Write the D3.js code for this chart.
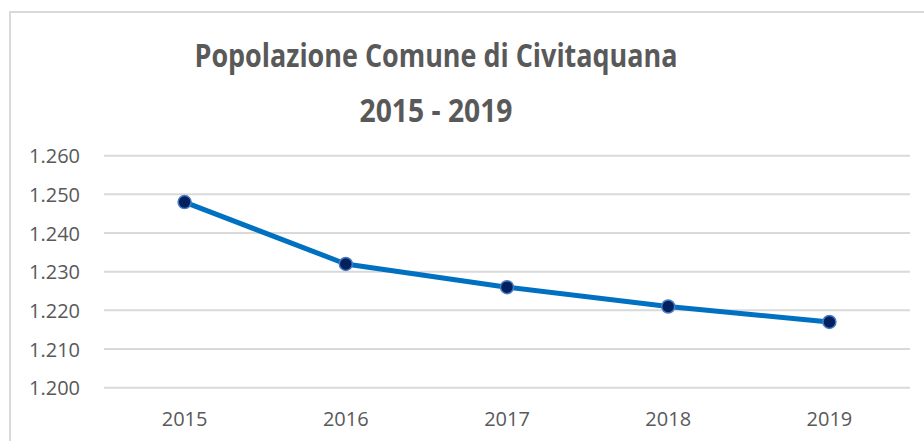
<!DOCTYPE html>
<html>
<head>
<meta charset="utf-8">
<script src="https://cdn.jsdelivr.net/npm/d3@7"></script>
<style>
  body { margin: 0; background: #fff; }
  text { font-family: "Open Sans", "Liberation Sans", sans-serif; }
</style>
</head>
<body>
<svg width="924" height="441"></svg>
<script>
// dati
var anni = ["2015", "2016", "2017", "2018", "2019"];
var popolazione = [1248, 1232, 1226, 1221, 1217];
var tickY = [1200, 1210, 1220, 1230, 1240, 1250, 1260];

var svg = d3.select("svg"),
    pLeft = 104, pRight = 910, pTop = 155.7, pBottom = 387.7;

// bordo del grafico
svg.append("rect")
    .attr("x", 10).attr("y", 12)
    .attr("width", 930).attr("height", 440)
    .attr("fill", "none")
    .attr("stroke", "#d9d9d9")
    .attr("stroke-width", 2);

var x = d3.scaleBand().domain(anni).range([pLeft, pRight]);
var y = d3.scaleLinear().domain([1200, 1260]).range([pBottom, pTop]);

var fmt = function(d) { return d3.format(",")(d).replace(",", "."); };

// griglia
svg.append("g")
  .selectAll("line")
  .data(tickY)
  .enter().append("line")
    .attr("x1", pLeft).attr("x2", pRight)
    .attr("y1", function(d) { return y(d); })
    .attr("y2", function(d) { return y(d); })
    .attr("stroke", "#d9d9d9")
    .attr("stroke-width", 2);

// asse y
var yAxis = svg.append("g")
    .attr("transform", "translate(" + (pLeft - 24) + ",0)")
    .call(d3.axisLeft(y).tickValues(tickY).tickFormat(fmt).tickSize(0));
yAxis.select(".domain").remove();
yAxis.selectAll("text")
    .attr("x", 0)
    .attr("fill", "#595959")
    .style("font-size", "20px")
    .attr("dy", "0.36em");

// asse x
var xAxis = svg.append("g")
    .attr("transform", "translate(0," + pBottom + ")")
    .call(d3.axisBottom(x).tickSize(0));
xAxis.select(".domain").remove();
xAxis.selectAll("text")
    .attr("fill", "#595959")
    .style("font-size", "20px")
    .attr("y", 38)
    .attr("dy", 0);

// linea
var line = d3.line()
    .x(function(d, i) { return x(anni[i]) + x.bandwidth() / 2; })
    .y(function(d) { return y(d); });

svg.append("path")
    .datum(popolazione)
    .attr("d", line)
    .attr("fill", "none")
    .attr("stroke", "#0070c0")
    .attr("stroke-width", 5)
    .attr("stroke-linejoin", "round");

svg.append("g")
  .selectAll("circle")
  .data(popolazione)
  .enter().append("circle")
    .attr("cx", function(d, i) { return x(anni[i]) + x.bandwidth() / 2; })
    .attr("cy", function(d) { return y(d); })
    .attr("r", 6.5)
    .attr("fill", "#002060")
    .attr("stroke", "#4a7cc0")
    .attr("stroke-width", 1.5);

// titolo
var titolo = ["Popolazione Comune di Civitaquana", "2015 - 2019"];
var larghezze = [483, 153];
svg.append("g").selectAll("text")
    .data(titolo)
    .enter().append("text")
    .attr("x", 436)
    .attr("y", function(d, i) { return i === 0 ? 67 : 122; })
    .attr("text-anchor", "middle")
    .attr("fill", "#595959")
    .attr("textLength", function(d, i) { return larghezze[i]; })
    .attr("lengthAdjust", "spacingAndGlyphs")
    .style("font-weight", "bold")
    .style("font-size", "32px")
    .text(function(d) { return d; });
</script>
</body>
</html>
